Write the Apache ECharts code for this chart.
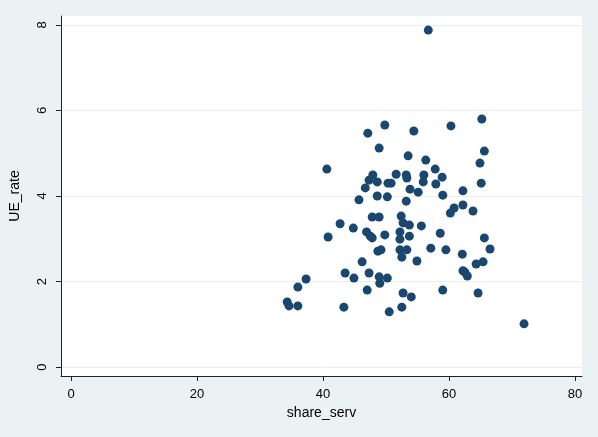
<!DOCTYPE html>
<html>
<head>
<meta charset="utf-8">
<script src="https://cdn.jsdelivr.net/npm/echarts@6/dist/echarts.min.js"></script>
<style>
  html, body { margin: 0; padding: 0; background: #EAF2F3; }
  #chart { width: 598px; height: 437px; }
</style>
</head>
<body>
<div id="chart"></div>
<script>
// Service-sector share vs. unemployment rate
const shareServ = [
  56.7, 47.1, 49.8, 48.9, 54.4, 60.3, 65.2, 40.6, 53.5, 56.3,
  65.6, 64.9, 47.9, 47.3, 48.6, 50.3, 50.8, 46.7, 45.7, 48.6,
  50.2, 47.8, 48.9, 51.6, 53.2, 53.3, 56.0, 55.9, 57.8, 58.9,
  57.9, 53.8, 55.1, 53.2, 59.0, 62.2, 62.2, 60.8, 60.2, 52.4,
  65.1, 63.8, 42.7, 44.8, 40.8, 46.9, 47.5, 47.8, 49.8, 48.7,
  49.2, 46.2, 43.5, 44.9, 47.3, 48.9, 49.0, 47.0, 37.3, 36.0,
  34.3, 34.6, 36.0, 43.3, 52.7, 53.7, 55.6, 52.2, 52.2, 53.7,
  58.6, 52.2, 53.3, 52.5, 54.9, 57.1, 59.5, 62.1, 62.2, 50.2,
  52.7, 54.0, 59.0, 50.5, 52.5, 65.6, 66.5, 64.3, 65.4, 62.5,
  62.9, 64.6, 71.9
];
const ueRate = [
  7.88, 5.47, 5.66, 5.12, 5.52, 5.64, 5.80, 4.63, 4.94, 4.84,
  5.05, 4.77, 4.49, 4.37, 4.33, 4.30, 4.30, 4.19, 3.91, 4.00,
  3.98, 3.51, 3.51, 4.51, 4.49, 4.42, 4.49, 4.33, 4.63, 4.44,
  4.28, 4.16, 4.09, 3.88, 4.02, 4.12, 3.79, 3.72, 3.60, 3.53,
  4.30, 3.65, 3.35, 3.25, 3.04, 3.16, 3.06, 3.02, 3.09, 2.71,
  2.74, 2.46, 2.20, 2.08, 2.20, 2.11, 1.96, 1.80, 2.06, 1.87,
  1.52, 1.43, 1.43, 1.40, 3.37, 3.32, 3.30, 3.16, 2.99, 3.06,
  3.13, 2.74, 2.74, 2.57, 2.48, 2.78, 2.74, 2.64, 2.25, 2.08,
  1.73, 1.64, 1.80, 1.29, 1.40, 3.02, 2.76, 2.41, 2.46, 2.22,
  2.13, 1.73, 1.01
];
const xTicks = [0, 20, 40, 60, 80];
const yTicks = [0, 2, 4, 6, 8];

const points = shareServ.map((x, i) => [x, ueRate[i]]);

const font = 'Liberation Sans, Arial, Helvetica, sans-serif';
const axisColor = '#222222';
const chart = echarts.init(document.getElementById('chart'), null, { renderer: 'canvas' });
chart.setOption({
  backgroundColor: '#EAF2F3',
  animation: false,
  grid: {
    left: 61, top: 16, width: 521, height: 360,
    show: true, backgroundColor: '#FFFFFF', borderWidth: 0
  },
  xAxis: {
    type: 'value',
    min: -1.6, max: 81.1,
    name: 'share_serv',
    nameLocation: 'middle',
    nameGap: 26,
    nameTextStyle: { color: '#000', fontSize: 14, fontFamily: font },
    axisLine: { show: true, onZero: false, lineStyle: { color: axisColor, width: 1 } },
    axisTick: { show: true, length: 5, customValues: xTicks, lineStyle: { color: axisColor } },
    axisLabel: { customValues: xTicks, margin: 12, color: '#000', fontSize: 13, fontFamily: font },
    splitLine: { show: false }
  },
  yAxis: {
    type: 'value',
    min: -0.21, max: 8.21,
    name: 'UE_rate',
    nameLocation: 'middle',
    nameGap: 39,
    nameTextStyle: { color: '#000', fontSize: 14, fontFamily: font },
    axisLine: { show: true, onZero: false, lineStyle: { color: axisColor, width: 1 } },
    axisTick: { show: true, length: 5, customValues: yTicks, lineStyle: { color: axisColor } },
    axisLabel: { customValues: yTicks, rotate: 90, margin: 12, color: '#000', fontSize: 13, fontFamily: font },
    splitLine: { show: true, lineStyle: { color: '#E6EFF1', width: 1 } }
  },
  series: [{
    type: 'scatter',
    data: points,
    symbol: 'circle',
    symbolSize: 9,
    itemStyle: { color: '#1A476F', opacity: 1 }
  }]
});
</script>
</body>
</html>
